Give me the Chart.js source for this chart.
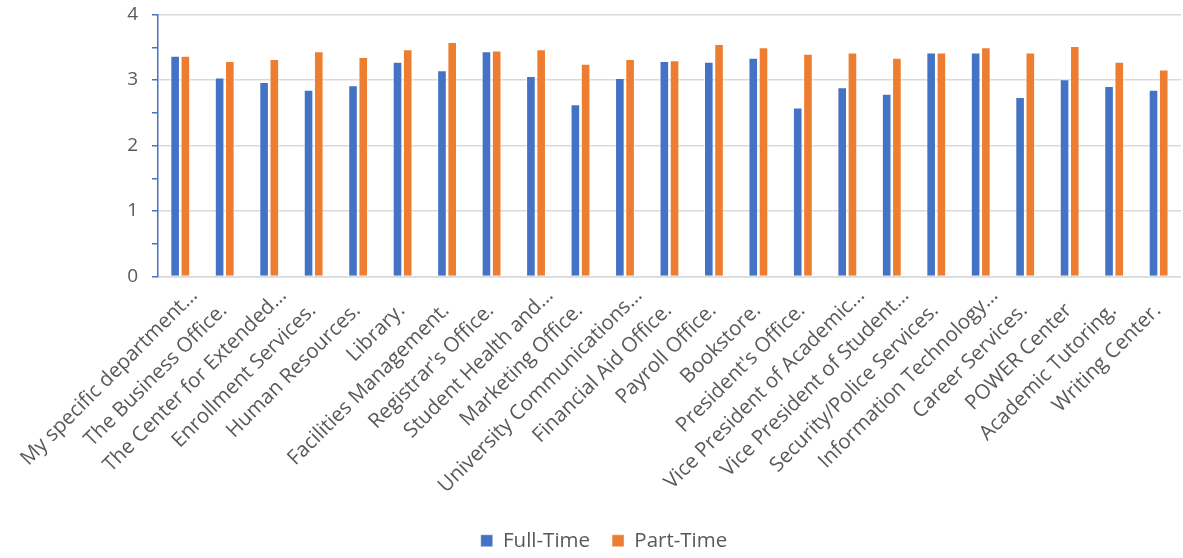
<!DOCTYPE html>
<html>
<head>
<meta charset="utf-8">
<script src="https://cdn.jsdelivr.net/npm/chart.js@4"></script>
<style>
  html, body { margin: 0; padding: 0; background: #ffffff; }
  #wrap { width: 1183px; height: 558px; }
</style>
</head>
<body>
<div id="wrap"><canvas id="c" width="1183" height="558"></canvas></div>
<script>
// Office names along the x axis
const categories = [
  "My specific department...",
  "The Business Office.",
  "The Center for Extended...",
  "Enrollment Services.",
  "Human Resources.",
  "Library.",
  "Facilities Management.",
  "Registrar's Office.",
  "Student Health and...",
  "Marketing Office.",
  "University Communications...",
  "Financial Aid Office.",
  "Payroll Office.",
  "Bookstore.",
  "President's Office.",
  "Vice President of Academic...",
  "Vice President of Student...",
  "Security/Police Services.",
  "Information Technology...",
  "Career Services.",
  "POWER Center",
  "Academic Tutoring.",
  "Writing Center."
];

// Mean ratings per office
const fullTime = [3.37, 3.04, 2.97, 2.85, 2.92, 3.28, 3.15, 3.44, 3.06, 2.63, 3.03, 3.29,
                  3.28, 3.34, 2.58, 2.89, 2.79, 3.42, 3.42, 2.74, 3.01, 2.91, 2.85];
const partTime = [3.37, 3.29, 3.32, 3.44, 3.35, 3.47, 3.58, 3.45, 3.47, 3.25, 3.32, 3.30,
                  3.55, 3.50, 3.40, 3.42, 3.34, 3.42, 3.50, 3.42, 3.52, 3.28, 3.16];

const yTicks = [0, 1, 2, 3, 4];

const FONT = "'Open Sans', Lato, 'Liberation Sans', sans-serif";
const TEXT = "#595959";

// Full names sit a little further from the axis than the shortened ones
const tickLabel = (v, i) => {
  const s = categories[i];
  return s.endsWith("...") ? s : s + "\u00a0\u00a0\u00a0\u00a0";
};

new Chart(document.getElementById("c"), {
  type: "bar",
  data: {
    labels: categories,
    datasets: [
      {
        label: "Full-Time",
        data: fullTime,
        backgroundColor: "#4472C4",
        borderColor: "rgba(255,255,255,0.45)",
        borderWidth: 1,
        barPercentage: 0.94,
        categoryPercentage: 0.46
      },
      {
        label: "Part-Time",
        data: partTime,
        backgroundColor: "#ED7D31",
        borderColor: "rgba(255,255,255,0.45)",
        borderWidth: 1,
        barPercentage: 0.94,
        categoryPercentage: 0.46
      }
    ]
  },
  options: {
    responsive: false,
    animation: false,
    layout: {
      autoPadding: false,
      padding: { top: 14, right: 2, left: 27, bottom: -3 }
    },
    plugins: {
      legend: {
        position: "bottom",
        labels: {
          font: { family: FONT, size: 20.5 },
          color: TEXT,
          boxWidth: 12,
          boxHeight: 12,
          padding: 22
        }
      },
      tooltip: { enabled: false }
    },
    scales: {
      x: {
        grid: { display: false, drawTicks: false },
        border: { color: "#d9d9d9", width: 1.5 },
        ticks: {
          autoSkip: false,
          maxRotation: 45,
          minRotation: 45,
          color: TEXT,
          font: { family: FONT, size: 20.5 },
          padding: 7,
          labelOffset: 14,
          callback: tickLabel
        },
        afterFit: s => { s.height = 232; }
      },
      y: {
        min: 0,
        max: 4,
        border: { color: "#4472C4", width: 1.5 },
        grid: {
          color: ctx => (Number.isInteger(ctx.tick.value) ? "#d9d9d9" : "rgba(0,0,0,0)"),
          lineWidth: 1.5,
          tickColor: "#4472C4",
          tickLength: 6,
          drawTicks: true
        },
        ticks: {
          stepSize: 0.5,
          color: TEXT,
          font: { family: FONT, size: 19, lineHeight: "1px" },
          padding: 14,
          callback: v => (yTicks.includes(v) ? String(v) : "")
        },
        afterFit: s => { s.width = 128; }
      }
    }
  }
});
</script>
</body>
</html>
